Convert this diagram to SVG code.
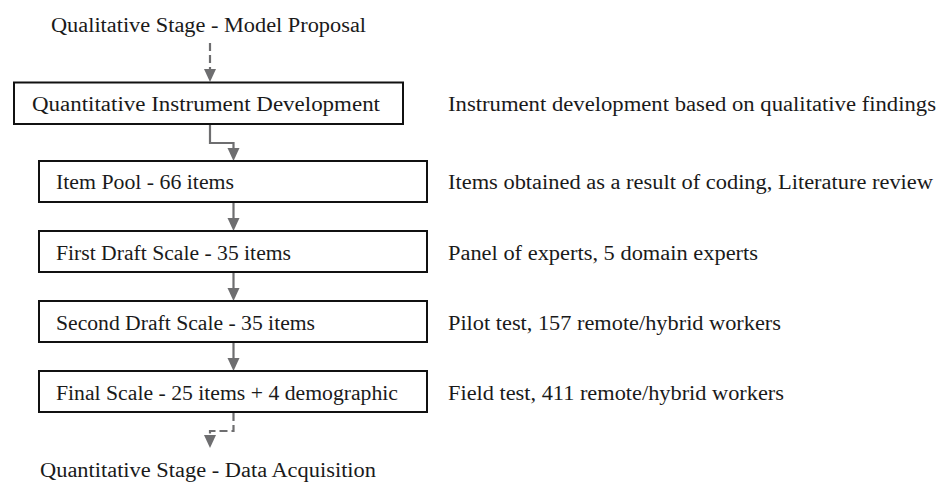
<svg xmlns="http://www.w3.org/2000/svg" width="946" height="484" viewBox="0 0 946 484">
  <defs>
    <style>
      text { font-family: "Liberation Serif", "Times New Roman", serif; font-size: 20px; fill: #1a1a1a; }
      .box { fill: #ffffff; stroke: #111111; stroke-width: 2; }
      .link { fill: none; stroke: #6e6e70; stroke-width: 2.2; }
      .dashed { stroke-dasharray: 8 4; }
      .head { fill: #6e6e70; }
    </style>
  </defs>
  <rect width="946" height="484" fill="#ffffff"/>

  <!-- flow connectors: dashed for stage hand-offs, solid between scale versions -->
  <g id="connectors">
    <path class="link dashed" d="M210,43 V69"/>
    <polygon class="head" points="204,69 216,69 210,82"/>
    <path class="link" d="M210,124 V143 H233.5 V148"/>
    <polygon class="head" points="227.5,148 239.5,148 233.5,161"/>
    <path class="link" d="M233.5,202 V218"/>
    <polygon class="head" points="227.5,218 239.5,218 233.5,231"/>
    <path class="link" d="M233.5,272 V288"/>
    <polygon class="head" points="227.5,288 239.5,288 233.5,301"/>
    <path class="link" d="M233.5,342 V358"/>
    <polygon class="head" points="227.5,358 239.5,358 233.5,371"/>
    <path class="link dashed" d="M233.5,413 V431 H210 V435"/>
    <polygon class="head" points="204,435 216,435 210,448"/>
  </g>

  <g id="model-proposal">
    <text x="51" y="32" textLength="315" lengthAdjust="spacingAndGlyphs">Qualitative Stage - Model Proposal</text>
  </g>

  <g id="instrument-development">
    <rect class="box" x="14" y="82.5" width="389" height="41.5"/>
    <text x="32" y="110.5" textLength="348" lengthAdjust="spacingAndGlyphs">Quantitative Instrument Development</text>
    <text x="448" y="110.5" textLength="488" lengthAdjust="spacingAndGlyphs">Instrument development based on qualitative findings</text>
  </g>

  <g id="item-pool">
    <rect class="box" x="39" y="161" width="388" height="41"/>
    <text x="56" y="189" textLength="178" lengthAdjust="spacingAndGlyphs">Item Pool - 66 items</text>
    <text x="448" y="189" textLength="485" lengthAdjust="spacingAndGlyphs">Items obtained as a result of coding, Literature review</text>
  </g>

  <g id="first-draft">
    <rect class="box" x="39" y="231" width="388" height="41"/>
    <text x="56" y="259.5" textLength="235" lengthAdjust="spacingAndGlyphs">First Draft Scale - 35 items</text>
    <text x="448" y="259.5" textLength="310" lengthAdjust="spacingAndGlyphs">Panel of experts, 5 domain experts</text>
  </g>

  <g id="second-draft">
    <rect class="box" x="39" y="301" width="388" height="41"/>
    <text x="56" y="329.5" textLength="259" lengthAdjust="spacingAndGlyphs">Second Draft Scale - 35 items</text>
    <text x="448" y="329.5" textLength="333" lengthAdjust="spacingAndGlyphs">Pilot test, 157 remote/hybrid workers</text>
  </g>

  <g id="final-scale">
    <rect class="box" x="39" y="371" width="388" height="41"/>
    <text x="56" y="399.5" textLength="342" lengthAdjust="spacingAndGlyphs">Final Scale - 25 items + 4 demographic</text>
    <text x="448" y="399.5" textLength="336" lengthAdjust="spacingAndGlyphs">Field test, 411 remote/hybrid workers</text>
  </g>

  <g id="data-acquisition">
    <text x="40" y="477" textLength="336" lengthAdjust="spacingAndGlyphs">Quantitative Stage - Data Acquisition</text>
  </g>
</svg>
